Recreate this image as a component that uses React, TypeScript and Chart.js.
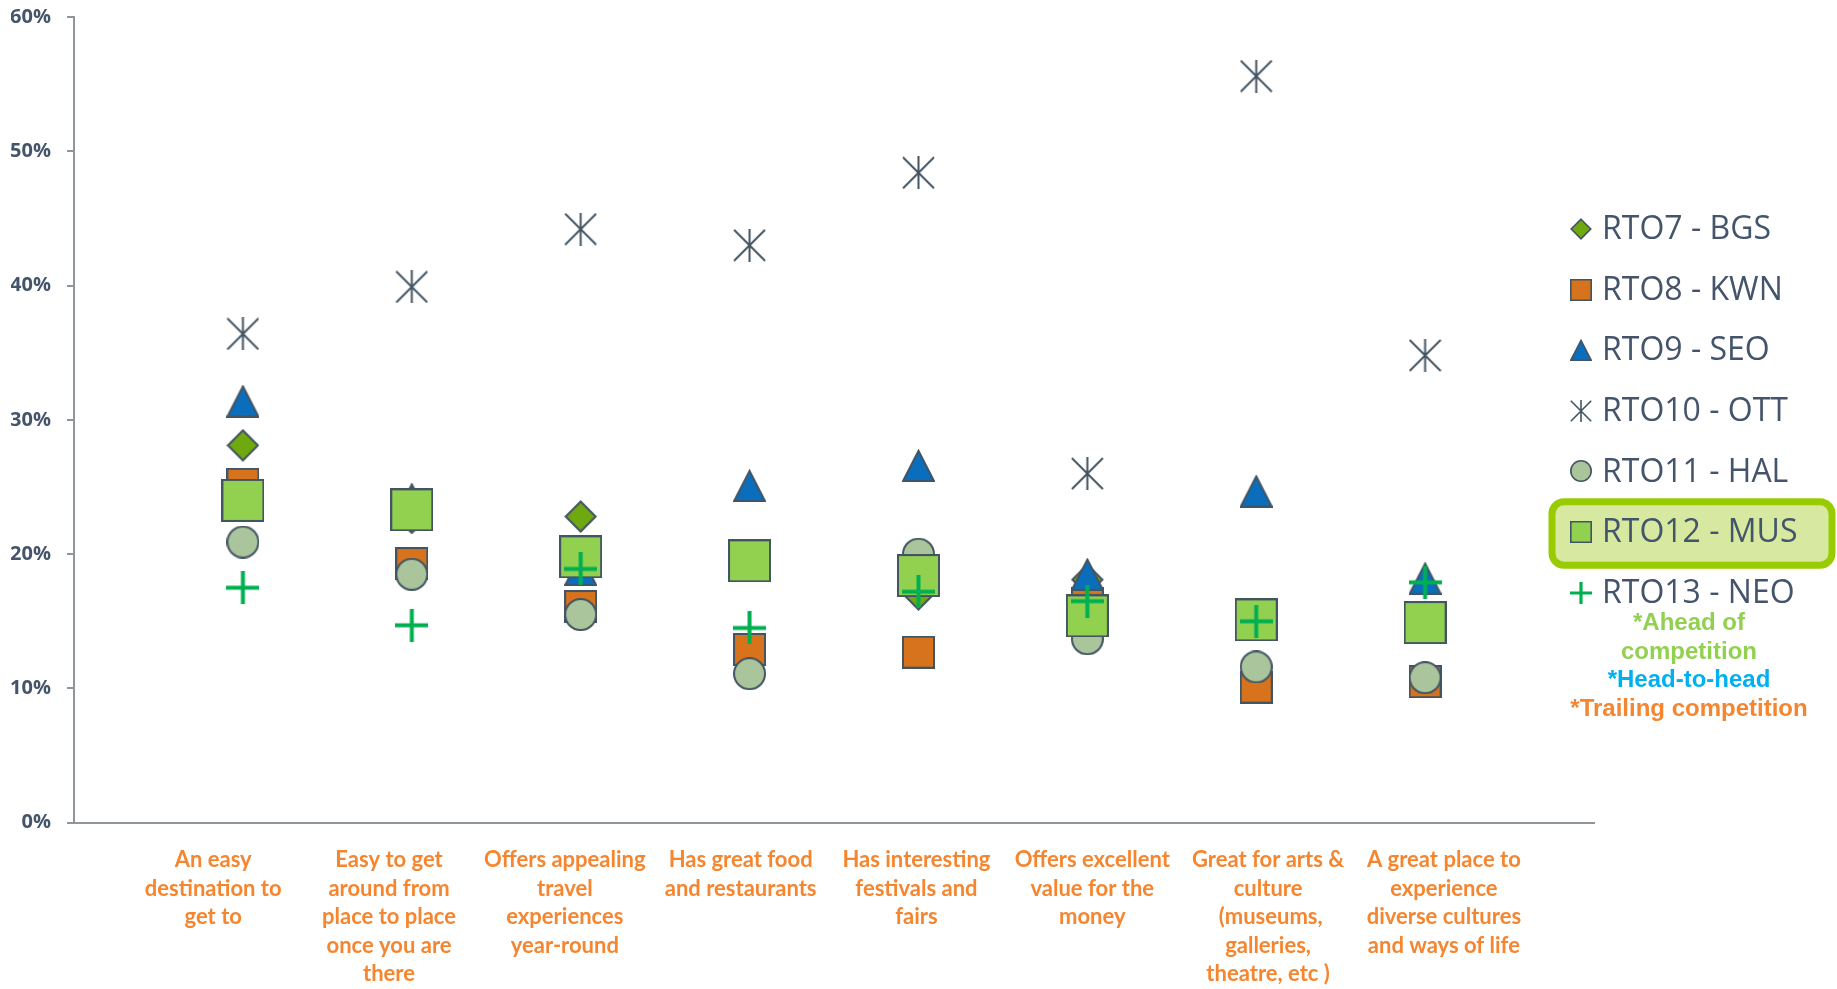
import React, { useEffect, useRef } from 'react';
import { Chart, registerables } from 'chart.js';

Chart.register(...registerables);

// ---------- DATA ----------
const categories: string[][] = [
  ['An easy', 'destination to', 'get to'],
  ['Easy to get', 'around from', 'place to place', 'once you are', 'there'],
  ['Offers appealing', 'travel', 'experiences', 'year-round'],
  ['Has great food', 'and restaurants'],
  ['Has interesting', 'festivals and', 'fairs'],
  ['Offers excellent', 'value for the', 'money'],
  ['Great for arts &', 'culture', ' (museums,', 'galleries,', 'theatre, etc )'],
  ['A great place to', 'experience', 'diverse cultures', 'and ways of life'],
];

const seriesNames = [
  'RTO7 - BGS',
  'RTO8 - KWN',
  'RTO9 - SEO',
  'RTO10 - OTT',
  'RTO11 - HAL',
  'RTO12 - MUS',
  'RTO13 - NEO',
];

const bgsValues = [28.1, 22.7, 22.8, 19.6, 17.0, 18.1, 15.1, 15.0];
const kwnValues = [25.2, 19.3, 16.1, 12.9, 12.7, 16.3, 10.1, 10.5];
const seoValues = [31.4, 24.1, 18.85, 25.1, 26.6, 18.5, 24.7, 18.2];
const ottValues = [36.4, 39.9, 44.2, 43.0, 48.4, 26.0, 55.6, 34.8];
const halValues = [20.9, 18.5, 15.5, 11.1, 20.0, 13.7, 11.6, 10.8];
const musValues = [24.0, 23.3, 19.8, 19.5, 18.4, 15.4, 15.1, 14.9];
const neoValues = [17.5, 14.7, 18.9, 14.5, 17.2, 16.5, 15.0, 17.9];

const yMin = 0;
const yMax = 60;
const yStep = 10;

const footnoteLines = ['*Ahead of', 'competition', '*Head-to-head', '*Trailing competition'];

// ---------- STYLE ----------
const STROKE = '#435462';
const TEXT = '#44546A';
const AXIS = '#8E969B';
const ORANGE_TXT = '#F5862F';
const FOOT_COLORS = ['#92D050', '#92D050', '#00B0F0', '#F5862F'];

type Kind = 'diamond' | 'square' | 'triangle' | 'asterisk' | 'circle' | 'plus';

const seriesStyle: { kind: Kind; fill: string; size: number; legendSize: number }[] = [
  { kind: 'diamond', fill: '#6FA80F', size: 33, legendSize: 22 },
  { kind: 'square', fill: '#D7731C', size: 33, legendSize: 22 },
  { kind: 'triangle', fill: '#0A6EBD', size: 33, legendSize: 22 },
  { kind: 'asterisk', fill: STROKE, size: 33, legendSize: 22 },
  { kind: 'circle', fill: '#AAC49B', size: 33, legendSize: 22 },
  { kind: 'square', fill: '#92D050', size: 43, legendSize: 22 },
  { kind: 'plus', fill: '#00B050', size: 33, legendSize: 22 },
];

function makeMarker(kind: Kind, size: number, fill: string, lw: number): HTMLCanvasElement {
  const c = document.createElement('canvas');
  c.width = size;
  c.height = size;
  const ctx = c.getContext('2d')!;
  const h = lw / 2;
  const m = size / 2;
  ctx.lineWidth = lw;
  ctx.strokeStyle = STROKE;
  ctx.fillStyle = fill;
  ctx.lineJoin = 'miter';
  ctx.beginPath();
  switch (kind) {
    case 'diamond': {
      const d = lw * 0.75;
      ctx.moveTo(m, d);
      ctx.lineTo(size - d, m);
      ctx.lineTo(m, size - d);
      ctx.lineTo(d, m);
      ctx.closePath();
      ctx.fill();
      ctx.stroke();
      break;
    }
    case 'square':
      ctx.rect(h, h, size - lw, size - lw);
      ctx.fill();
      ctx.stroke();
      break;
    case 'triangle': {
      const d = lw * 0.9;
      ctx.moveTo(m, d);
      ctx.lineTo(size - h, size - h);
      ctx.lineTo(h, size - h);
      ctx.closePath();
      ctx.fill();
      ctx.stroke();
      break;
    }
    case 'circle':
      ctx.arc(m, m, m - h, 0, Math.PI * 2);
      ctx.fill();
      ctx.stroke();
      break;
    case 'asterisk':
      ctx.strokeStyle = fill;
      ctx.moveTo(h, h);
      ctx.lineTo(size - h, size - h);
      ctx.moveTo(size - h, h);
      ctx.lineTo(h, size - h);
      ctx.moveTo(m, 0);
      ctx.lineTo(m, size);
      ctx.stroke();
      break;
    case 'plus':
      ctx.strokeStyle = fill;
      ctx.lineWidth = lw * 2;
      ctx.moveTo(0, m);
      ctx.lineTo(size, m);
      ctx.moveTo(m, 0);
      ctx.lineTo(m, size);
      ctx.stroke();
      break;
  }
  return c;
}

function roundRect(ctx: CanvasRenderingContext2D, x: number, y: number, w: number, h: number, r: number) {
  ctx.beginPath();
  ctx.moveTo(x + r, y);
  ctx.lineTo(x + w - r, y);
  ctx.arcTo(x + w, y, x + w, y + r, r);
  ctx.lineTo(x + w, y + h - r);
  ctx.arcTo(x + w, y + h, x + w - r, y + h, r);
  ctx.lineTo(x + r, y + h);
  ctx.arcTo(x, y + h, x, y + h - r, r);
  ctx.lineTo(x, y + r);
  ctx.arcTo(x, y, x + r, y, r);
  ctx.closePath();
}

export default function App() {
  const canvasRef = useRef<HTMLCanvasElement | null>(null);

  useEffect(() => {
    document.body.style.margin = '0';
    const canvas = canvasRef.current;
    if (!canvas) return;

    const allValues = [bgsValues, kwnValues, seoValues, ottValues, halValues, musValues, neoValues];
    const markers = seriesStyle.map((s) => makeMarker(s.kind, s.size, s.fill, 2));
    const legendMarkers = seriesStyle.map((s) => makeMarker(s.kind, s.legendSize, s.fill, 1.6));

    const datasets = allValues.map((vals, i) => ({
      label: seriesNames[i],
      data: vals.map((v, j) => ({ x: j + 1, y: v })),
      pointStyle: markers[i],
      pointRadius: 16,
      pointHoverRadius: 16,
      showLine: false,
      order: allValues.length - 1 - i,
      clip: false as any,
    }));

    const legendPlugin = {
      id: 'customLegend',
      beforeDraw(chart: any) {
        const ctx: CanvasRenderingContext2D = chart.ctx;
        ctx.save();
        roundRect(ctx, 1552, 501.7, 280, 63.6, 12);
        ctx.fillStyle = '#D7E9A0';
        ctx.fill();
        ctx.lineWidth = 7;
        ctx.strokeStyle = '#99CC00';
        ctx.stroke();
        ctx.restore();
      },
      afterDraw(chart: any) {
        const ctx: CanvasRenderingContext2D = chart.ctx;
        ctx.save();
        const mx = 1581.3;
        const tx = 1602;
        seriesNames.forEach((name, i) => {
          const y = 229 + i * 60.6;
          const mk = legendMarkers[i];
          ctx.drawImage(mk, Math.round(mx - mk.width / 2), Math.round(y - mk.height / 2));
          ctx.fillStyle = TEXT;
          ctx.font = '32px "Open Sans"';
          ctx.textAlign = 'left';
          ctx.textBaseline = 'middle';
          ctx.fillText(name, tx, y + 1);
        });
        const fy = [623.5, 652.5, 680.5, 709.2];
        ctx.font = 'bold 24px "Liberation Sans"';
        ctx.textAlign = 'center';
        ctx.textBaseline = 'middle';
        footnoteLines.forEach((line, i) => {
          ctx.fillStyle = FOOT_COLORS[i];
          ctx.fillText(line, 1689, fy[i]);
        });
        ctx.restore();
      },
    };

    const chart = new Chart(canvas, {
      type: 'scatter',
      data: { datasets: datasets as any },
      options: {
        responsive: false,
        animation: false,
        layout: { padding: { left: 11, right: 243, top: 14.7, bottom: 0 } },
        plugins: {
          legend: { display: false },
          tooltip: { enabled: false },
        },
        scales: {
          x: {
            type: 'linear',
            position: 'bottom',
            min: 0,
            max: categories.length + 1,
            ticks: { display: false },
            grid: { display: false, drawTicks: false },
            border: { display: true, color: AXIS, width: 2 },
          },
          x2: {
            type: 'linear',
            position: 'bottom',
            min: 0.2082,
            max: 8.8539,
            afterBuildTicks: (axis: any) => {
              axis.ticks = categories.map((_, i) => ({ value: i + 1 }));
            },
            afterFit: (axis: any) => {
              axis.height = 166.3;
            },
            ticks: {
              autoSkip: false,
              maxRotation: 0,
              minRotation: 0,
              padding: 23,
              color: ORANGE_TXT,
              font: { family: 'Lato', weight: 'bold', size: 22, lineHeight: '28.6px' } as any,
              callback: (_v: any, index: number) => categories[index],
            },
            grid: { display: false, drawTicks: false },
            border: { display: false },
          } as any,
          y: {
            min: yMin,
            max: yMax,
            afterFit: (axis: any) => {
              axis.width = 63;
              axis.paddingTop = 0;
              axis.paddingBottom = 0;
            },
            ticks: {
              stepSize: yStep,
              padding: 16,
              color: TEXT,
              font: { family: 'Open Sans', weight: 'bold', size: 20 } as any,
              callback: (v: any) => v + '%',
            },
            grid: { drawOnChartArea: false, drawTicks: true, tickLength: 7, color: AXIS, lineWidth: 2 },
            border: { display: true, color: AXIS, width: 2 },
          } as any,
        },
      },
      plugins: [legendPlugin],
    });

    return () => chart.destroy();
  }, []);

  return (
    <div style={{ width: 1837, height: 989, position: 'relative', background: '#ffffff' }}>
      <canvas ref={canvasRef} width={1837} height={989} style={{ width: 1837, height: 989, display: 'block' }} />
    </div>
  );
}
